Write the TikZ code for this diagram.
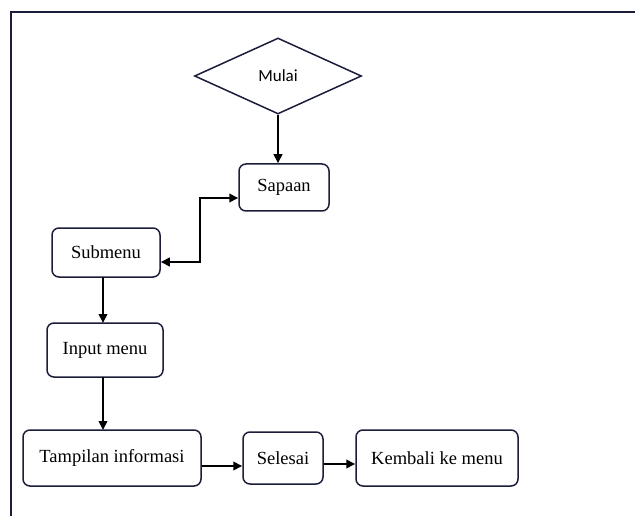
\documentclass[tikz,border=0pt]{standalone}
\usepackage{fontspec}
\setmainfont{Liberation Serif}
\newfontfamily\mulaifont{Carlito}
\usetikzlibrary{arrows.meta,shapes.geometric}
\definecolor{navy}{HTML}{1C1D3A}
\tikzset{
  box/.style={draw=navy, line width=1.5pt, rounded corners=7pt, fill=white, inner sep=0pt, font=\fontsize{18.5}{20}\selectfont},
  arr/.style={line width=2pt, -{Triangle[length=9pt,width=8.5pt]}},
  darr/.style={line width=2pt, {Triangle[length=9pt,width=8.5pt]}-{Triangle[length=9pt,width=8.5pt]}},
}
\begin{document}
\begin{tikzpicture}[x=1pt,y=-1pt]
\useasboundingbox (0,0) rectangle (635,516);
\fill[white] (0,0) rectangle (635,516);
\draw[navy, line width=1.6pt] (11,640) -- (11,12) -- (700,12);
\node[diamond, draw=navy, line width=1.5pt, minimum width=167pt, minimum height=76pt, aspect=2.2, inner sep=0pt, font=\mulaifont\fontsize{17}{18}\selectfont] (mulai) at (278,76) {Mulai};
\node[box, minimum width=90pt, minimum height=47pt] (sapaan) at (284,187.5) {Sapaan};
\node[box, minimum width=108pt, minimum height=49pt] (submenu) at (106,252.5) {Submenu};
\node[box, minimum width=116pt, minimum height=54pt] (input) at (105,350) {Input menu};
\node[box, minimum width=178pt, minimum height=56pt] (tampil) at (112,458) {Tampilan informasi};
\node[box, minimum width=80pt, minimum height=52pt] (selesai) at (283,458) {Selesai};
\node[box, minimum width=162pt, minimum height=56pt] (kembali) at (437,458) {Kembali ke menu};
\coordinate (c1) at (200,262);
\draw[arr] (mulai.south) -- (mulai.south |- sapaan.north);
\draw[darr] (submenu.east |- c1) -- (c1) |- (sapaan.west |- 0,198);
\draw[arr] (103,277) -- (103,323);
\draw[arr] (103,377) -- (103,430);
\draw[arr] (tampil.east |- 0,466) -- (selesai.west |- 0,466);
\draw[arr] (selesai.east |- 0,464) -- (kembali.west |- 0,464);
\end{tikzpicture}
\end{document}
